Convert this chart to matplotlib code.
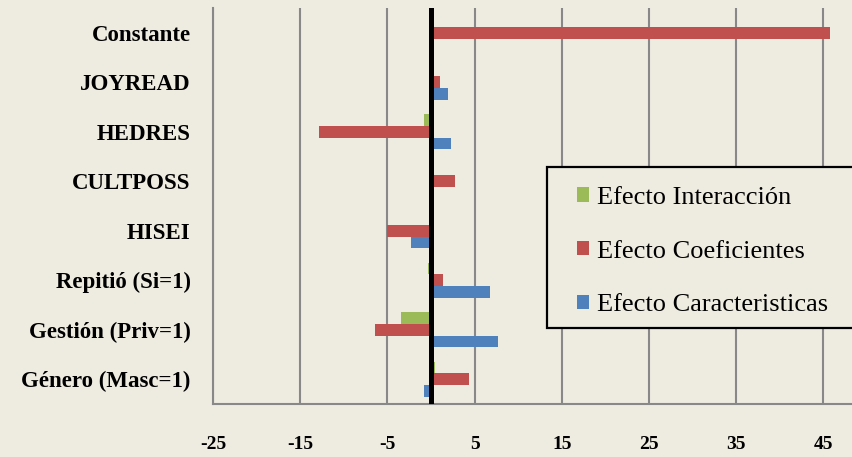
import numpy as np
import matplotlib
matplotlib.use("Agg")
import matplotlib.pyplot as plt
from matplotlib.patches import Rectangle

# categories bottom -> top
categories = ["Género (Masc=1)", "Gestión (Priv=1)", "Repitió (Si=1)", "HISEI",
              "CULTPOSS", "HEDRES", "JOYREAD", "Constante"]
interaccion     = [0.45, -3.4, -0.35, 0.35, 0.0, -0.75, 0.0, 0.0]
coeficientes    = [4.4, -6.4, 1.4, -5.0, 2.8, -12.9, 1.0, 45.8]
caracteristicas = [-0.85, 7.7, 6.8, -2.25, 0.0, 2.35, 1.9, 0.0]
series_labels = ["Efecto Interacción", "Efecto Coeficientes", "Efecto Caracteristicas"]
xticks = [-25, -15, -5, 5, 15, 25, 35, 45]

BG = "#EEECE1"
C_G = "#9BBB59"; C_R = "#C0504D"; C_B = "#4F81BD"; C_GRID = "#888888"

plt.rcParams.update({"font.family": ["Liberation Serif", "DejaVu Serif"]})

W, H = 852, 457
fig = plt.figure(figsize=(W/100, H/100), dpi=100, facecolor=BG)
ax = fig.add_axes([213/W, 1-404/H, (W-213)/W, (404-8)/H], facecolor=BG)

y = np.arange(len(categories))
h = 0.235
ax.barh(y + h, interaccion, height=h, color=C_G, label=series_labels[0], zorder=2)
ax.barh(y, coeficientes, height=h, color=C_R, label=series_labels[1], zorder=2)
ax.barh(y - h, caracteristicas, height=h, color=C_B, label=series_labels[2], zorder=2)

ax.axvline(0, color="black", lw=3.6, zorder=3)

ax.set_xlim(-25, -25 + (W-213)/8.72)
ax.set_ylim(-0.5, len(categories) - 0.5)
ax.set_xticks(xticks)
ax.set_xticklabels([str(v) for v in xticks], fontsize=14, fontweight="bold")
ax.set_yticks(y)
ax.set_yticklabels(categories, fontsize=16.5, fontweight="bold")
ax.tick_params(axis="x", length=0, pad=23)
ax.tick_params(axis="y", length=0, pad=16)
ax.grid(axis="x", color=C_GRID, lw=1.5, zorder=1)
ax.set_axisbelow(True)
for s in ["top", "right"]:
    ax.spines[s].set_visible(False)
for s in ["left", "bottom"]:
    ax.spines[s].set_color(C_GRID)
    ax.spines[s].set_linewidth(1.5)

# legend box (runs off the right edge, as in the original)
box = Rectangle((547/W, 1-328/H), (900-547)/W, (328-167)/H, transform=fig.transFigure,
                facecolor=BG, edgecolor="black", lw=1.6, zorder=5)
fig.add_artist(box)
leg = fig.legend(loc="center left", bbox_to_anchor=(577/W, 1-251.5/H), frameon=False,
                 fontsize=19, handlelength=0.47, handleheight=0.47, handletextpad=0.27,
                 labelspacing=1.2, borderpad=0, borderaxespad=0)
leg.set_zorder(6)

fig.savefig("out.png", dpi=100, facecolor=BG)
